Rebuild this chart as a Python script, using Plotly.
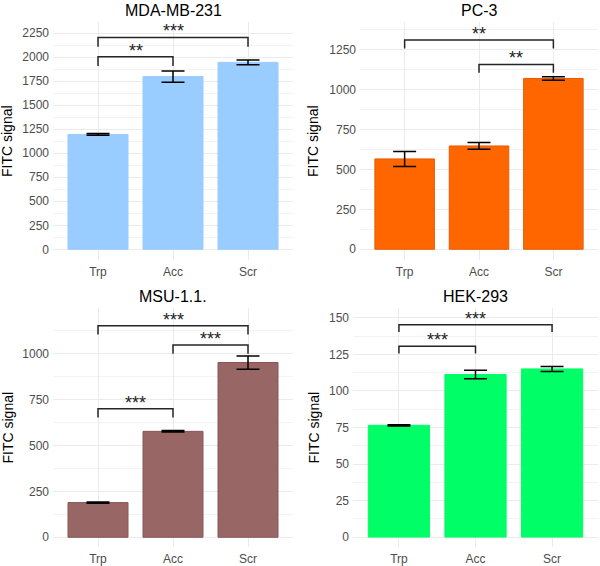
import plotly.graph_objects as go
from plotly.subplots import make_subplots

# Data

categories = ["Trp", "Acc", "Scr"]

mda_mean = [1195, 1797, 1945]
mda_err = [9, 58, 25]

pc3_mean = [565, 646, 1068]
pc3_err = [47, 21, 11]

msu_mean = [189, 577, 952]
msu_err = [3, 4, 36]

hek_mean = [76.5, 111.3, 115.1]
hek_err = [0.4, 2.9, 1.7]

# significance brackets: (from, to, label, height)
mda_brackets = [("Trp", "Acc", "**", 2003), ("Trp", "Scr", "***", 2205)]
pc3_brackets = [("Trp", "Scr", "**", 1308), ("Acc", "Scr", "**", 1156)]
msu_brackets = [("Trp", "Scr", "***", 1152), ("Acc", "Scr", "***", 1048), ("Trp", "Acc", "***", 700)]
hek_brackets = [("Trp", "Scr", "***", 145.4), ("Trp", "Acc", "***", 130.6)]

# Panel settings

W, H = 600, 566

panels = [
    dict(title="MDA-MB-231", mean=mda_mean, err=mda_err, brackets=mda_brackets, tip=97,
         fill="#99CCFF", edge="#99CCFF", box=(53, 293, 22, 260), yrange=(-111, 2365), dtick=250, ytitle_x=7),
    dict(title="PC-3", mean=pc3_mean, err=pc3_err, brackets=pc3_brackets, tip=52,
         fill="#FF6600", edge="#E85A00", box=(360, 598, 22, 260), yrange=(-67, 1421), dtick=250, ytitle_x=313),
    dict(title="MSU-1.1.", mean=msu_mean, err=msu_err, brackets=msu_brackets, tip=48,
         fill="#996666", edge="#8A5656", box=(53, 293, 308, 547), yrange=(-53, 1249), dtick=250, ytitle_x=7),
    dict(title="HEK-293", mean=hek_mean, err=hek_err, brackets=hek_brackets, tip=5,
         fill="#00FF66", edge="#00FF66", box=(353, 598, 308, 547), yrange=(-6.8, 156.8), dtick=25, ytitle_x=313),
]

fig = make_subplots(rows=2, cols=2)

annotations = []
for i, p in enumerate(panels):
    row, col = i // 2 + 1, i % 2 + 1
    n = "" if i == 0 else str(i + 1)

    fig.add_trace(
        go.Bar(
            x=categories,
            y=p["mean"],
            width=0.8,
            marker=dict(color=p["fill"], line=dict(color=p["edge"], width=1)),
            error_y=dict(type="data", array=p["err"], color="black", thickness=1.5, width=11.5),
            showlegend=False,
            hoverinfo="skip",
        ),
        row=row,
        col=col,
    )

    # brackets
    for a, b, label, h in p["brackets"]:
        fig.add_trace(
            go.Scatter(
                x=[a, a, b, b],
                y=[h - p["tip"], h, h, h - p["tip"]],
                mode="lines",
                line=dict(color="#262626", width=1.5),
                showlegend=False,
                hoverinfo="skip",
            ),
            row=row,
            col=col,
        )
        annotations.append(dict(
            x=(categories.index(a) + categories.index(b)) / 2, y=h,
            xref="x" + n, yref="y" + n,
            text=label, showarrow=False, yanchor="bottom", yshift=-6,
            font=dict(size=18, color="#222222"),
        ))

    x0, x1, y0, y1 = p["box"]
    fig.layout["xaxis" + n].update(
        domain=[x0 / W, x1 / W],
        range=[-0.6, 2.6],
        showgrid=True, gridcolor="#EBEBEB", gridwidth=1,
        zeroline=False, showline=False, ticks="",
        ticklabelstandoff=3,
        tickfont=dict(family="Liberation Sans, Arial", size=12, color="#4D4D4D"),
    )
    fig.layout["yaxis" + n].update(
        domain=[1 - y1 / H, 1 - y0 / H],
        range=list(p["yrange"]),
        dtick=p["dtick"], tick0=0,
        showgrid=True, gridcolor="#EBEBEB", gridwidth=1,
        minor=dict(dtick=p["dtick"] / 2, tick0=0, showgrid=True, gridcolor="#F3F3F3", gridwidth=0.7),
        zeroline=False, showline=False, ticks="",
        ticklabelstandoff=3,
        tickfont=dict(family="Liberation Sans, Arial", size=12, color="#4D4D4D"),
    )

    # panel title
    annotations.append(dict(
        x=(x0 + x1) / 2 / W, y=1 - (y0 - 12) / H, xref="paper", yref="paper",
        text=p["title"], showarrow=False, yanchor="middle", xanchor="center",
        font=dict(size=16, color="black"),
    ))
    # y axis title
    annotations.append(dict(
        x=p["ytitle_x"] / W, y=1 - (y0 + y1) / 2 / H, xref="paper", yref="paper",
        text="FITC signal", textangle=-90, showarrow=False,
        xanchor="center", yanchor="middle",
        font=dict(size=14, color="black"),
    ))

fig.update_layout(
    width=W,
    height=H,
    margin=dict(l=0, r=0, t=0, b=0),
    plot_bgcolor="white",
    paper_bgcolor="white",
    font=dict(family="Liberation Sans, Arial"),
    annotations=annotations,
    bargap=0.2,
)

# page body has an 8px default margin; drop it so the figure fills the window
fig.write_html(
    "out.html",
    config={"displayModeBar": False},
    post_script="document.body.style.margin = '0';",
)
